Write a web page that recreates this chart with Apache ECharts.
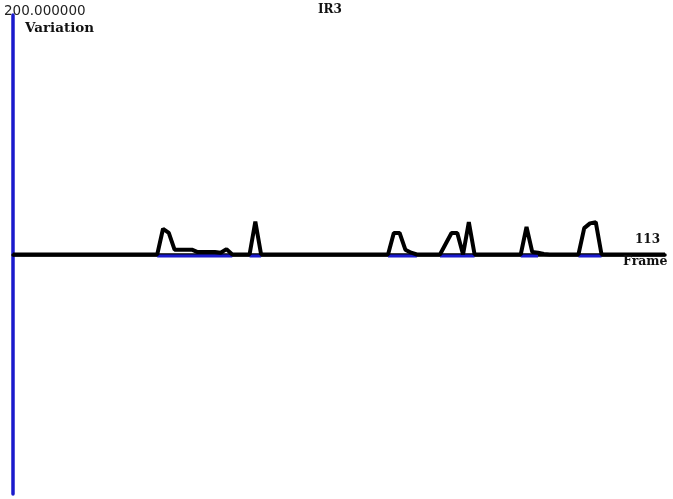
<!DOCTYPE html>
<html>
<head>
<meta charset="utf-8">
<script src="https://cdn.jsdelivr.net/npm/echarts@6/dist/echarts.min.js"></script>
<style>
  html, body { margin: 0; padding: 0; background: #fff; }
  #chart { width: 673px; height: 499px; }
</style>
</head>
<body>
<div id="chart"></div>
<script>
// IR3 variation per frame
const titleText = 'IR3'
const yName = 'Variation'
const xName = 'Frame'
const yMaxLabel = '200.000000'
const xMaxLabel = '113'
const yMin = -200
const yMax = 200
const frameMax = 113

// variation values, frames 0..113
const variation = [
  0, 0, 0, 0, 0, 0, 0, 0, 0, 0,
  0, 0, 0, 0, 0, 0, 0, 0, 0, 0,
  0, 0, 0, 0, 0, 0, 21.5, 18, 4, 4,
  4, 4, 2, 2, 2, 2, 1.5, 4.5, 0, 0,
  0, 0, 27.5, 0, 0, 0, 0, 0, 0, 0,
  0, 0, 0, 0, 0, 0, 0, 0, 0, 0,
  0, 0, 0, 0, 0, 0, 18, 18, 4, 1.5,
  0, 0, 0, 0, 0, 9, 18, 18, 0, 27,
  0, 0, 0, 0, 0, 0, 0, 0, 0, 23,
  2, 1.5, 0.5, 0, 0, 0, 0, 0, 0, 22,
  26, 27, 0, 0, 0, 0, 0, 0, 0, 0,
  0, 0, 0, 0
]

// frames marked in blue on the baseline
const flagStart = [25, 41, 65, 74, 88, 98]
const flagEnd = [38, 43, 70, 80, 91, 102]

const lineData = variation.map((v, i) => [i, v])
const flagData = []
flagStart.forEach((s, k) => {
  for (let f = s; f <= flagEnd[k]; f++) flagData.push([f, -1.2])
  flagData.push([flagEnd[k] + 0.5, null])
})

const chart = echarts.init(document.getElementById('chart'))
const serifBold = {
  fontFamily: 'DejaVu Serif',
  fontWeight: 'bold',
  fontSize: 12,
  fill: '#111'
}

chart.setOption({
  animation: false,
  backgroundColor: '#fff',
  grid: { left: 13, right: 8, top: 15, bottom: 5 },
  xAxis: {
    type: 'value',
    min: 0,
    max: frameMax,
    axisLine: { onZero: true, lineStyle: { color: '#000', width: 3.5 } },
    axisTick: { show: false },
    axisLabel: { show: false },
    splitLine: { show: false }
  },
  yAxis: {
    type: 'value',
    min: yMin,
    max: yMax,
    axisLine: { show: true, lineStyle: { color: '#1a1acc', width: 3.5 } },
    axisTick: { show: false },
    axisLabel: { show: false },
    splitLine: { show: false }
  },
  series: [
    {
      type: 'line',
      data: flagData,
      showSymbol: false,
      connectNulls: false,
      lineStyle: { color: '#1a1acc', width: 3 },
      z: 2
    },
    {
      type: 'line',
      data: lineData,
      showSymbol: false,
      lineStyle: { color: '#000', width: 4 },
      z: 3
    }
  ],
  graphic: [
    { type: 'text', left: 4, top: 4, z: 10,
      style: { text: yMaxLabel, fontFamily: 'DejaVu Sans', fontSize: 13.5, fill: '#222' } },
    { type: 'text', left: 25, top: 21, z: 10, style: Object.assign({}, serifBold, { text: yName, fontSize: 13.5 }) },
    { type: 'text', left: 318, top: 4, z: 10, style: Object.assign({}, serifBold, { text: titleText }) },
    { type: 'text', left: 635, top: 234, z: 10, style: Object.assign({}, serifBold, { text: xMaxLabel }) },
    { type: 'text', left: 623, top: 255, z: 10, style: Object.assign({}, serifBold, { text: xName, fontSize: 12.5 }) }
  ]
})
</script>
</body>
</html>
